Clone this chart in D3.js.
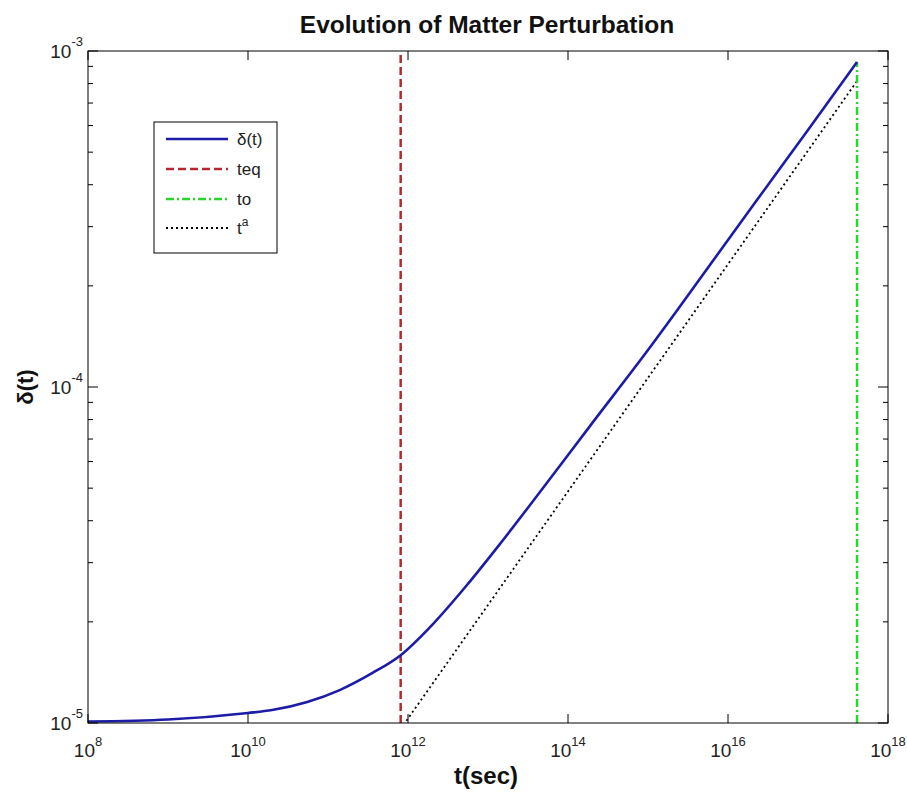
<!DOCTYPE html>
<html>
<head>
<meta charset="utf-8">
<script src="https://cdn.jsdelivr.net/npm/d3@7"></script>
<style>
  html, body { margin: 0; padding: 0; background: #fff; }
  svg { display: block; font-family: "Liberation Sans", Arial, sans-serif; }
</style>
</head>
<body>
<svg id="chart" width="907" height="793"></svg>
<script>
// ---- data ----
const tValues = [1e8, 1e9, 1e10, 2.0e10, 5.5e10, 1.4e11, 3.6e11, 8.1e11, 2.05e12, 5.46e12,
                 1.41e13, 4.87e13, 1.88e14, 1e15, 1e16, 2.3e16, 1e17, 4.1e17];
const deltaValues = [1.01e-5, 1.024e-5, 1.071e-5, 1.093e-5, 1.155e-5, 1.253e-5, 1.409e-5, 1.592e-5, 1.97e-5, 2.574e-5,
                     3.41e-5, 5.006e-5, 7.65e-5, 1.288e-4, 2.739e-4, 3.601e-4, 5.819e-4, 9.27e-4];
const tEq = 8.1e11;
const tO = 4.1e17;
const powerLawT = [8.1e11, 4.1e17];
const powerLawDelta = [9.6e-6, 8.14e-4];
const xTickExps = [8, 10, 12, 14, 16, 18];
const yTickExps = [-5, -4, -3];
const yMinorMultipliers = [2, 3, 4, 5, 6, 7, 8, 9];
const legendLabels = ["δ(t)", "teq", "to", "t"];
const titleText = "Evolution of Matter Perturbation";
const xLabelText = "t(sec)";
const yLabelText = "δ(t)";

// ---- layout ----
const L = 88, R = 888, T = 51, B = 723;
const svg = d3.select("#chart");
const x = d3.scaleLog().domain([1e8, 1e18]).range([L, R]);
const y = d3.scaleLog().domain([1e-5, 1e-3]).range([B, T]);

const colBlue = "#1c1ca6", colRed = "#b52a30", colGreen = "#2ed32e", colBlack = "#000";

svg.append("defs").append("clipPath").attr("id", "plotclip")
  .append("rect").attr("x", L).attr("y", T).attr("width", R - L).attr("height", B - T);

svg.append("rect").attr("x", L).attr("y", T).attr("width", R - L).attr("height", B - T)
  .attr("fill", "#fff");

const plot = svg.append("g").attr("clip-path", "url(#plotclip)");

// t^a dotted line
const powerData = powerLawT.map((t, i) => [t, powerLawDelta[i]]);
plot.append("path")
  .datum(powerData)
  .attr("d", d3.line().x(d => x(d[0])).y(d => y(d[1])))
  .attr("fill", "none").attr("stroke", colBlack).attr("stroke-width", 1.8)
  .attr("stroke-dasharray", "2,3");

// teq dashed line
plot.append("line")
  .attr("x1", x(tEq)).attr("x2", x(tEq))
  .attr("y1", y(1e-5)).attr("y2", y(1e-3))
  .attr("stroke", colRed).attr("stroke-width", 2.5).attr("stroke-dasharray", "8,4");

// to dash-dot line
plot.append("line")
  .attr("x1", x(tO)).attr("x2", x(tO))
  .attr("y1", y(1e-5)).attr("y2", y(deltaValues[deltaValues.length - 1]))
  .attr("stroke", colGreen).attr("stroke-width", 2.5).attr("stroke-dasharray", "8,3,2,3");

// delta(t) curve
const curveData = tValues.map((t, i) => [t, deltaValues[i]]);
plot.append("path")
  .datum(curveData)
  .attr("d", d3.line().x(d => x(d[0])).y(d => y(d[1])).curve(d3.curveMonotoneX))
  .attr("fill", "none").attr("stroke", colBlue).attr("stroke-width", 2.6);

// ---- axes frame & ticks ----
const axes = svg.append("g").attr("stroke", "#000").attr("stroke-width", 1);
axes.append("rect").attr("x", L).attr("y", T).attr("width", R - L).attr("height", B - T)
  .attr("fill", "none");

xTickExps.forEach(e => {
  const xv = x(Math.pow(10, e));
  axes.append("line").attr("x1", xv).attr("x2", xv).attr("y1", B).attr("y2", B - 9);
  axes.append("line").attr("x1", xv).attr("x2", xv).attr("y1", T).attr("y2", T + 9);
});
yTickExps.forEach(e => {
  const yv = y(Math.pow(10, e));
  axes.append("line").attr("x1", L).attr("x2", L + 10).attr("y1", yv).attr("y2", yv);
  axes.append("line").attr("x1", R).attr("x2", R - 10).attr("y1", yv).attr("y2", yv);
});
yTickExps.slice(0, -1).forEach(e => {
  yMinorMultipliers.forEach(m => {
    const yv = y(m * Math.pow(10, e));
    axes.append("line").attr("x1", L).attr("x2", L + 5).attr("y1", yv).attr("y2", yv);
    axes.append("line").attr("x1", R).attr("x2", R - 5).attr("y1", yv).attr("y2", yv);
  });
});

// ---- tick labels ----
xTickExps.forEach(e => {
  const t = svg.append("text").attr("x", x(Math.pow(10, e))).attr("y", 757)
    .attr("text-anchor", "middle").attr("fill", "#222").attr("font-size", 19);
  t.append("tspan").text("10");
  t.append("tspan").attr("dy", -11).attr("font-size", 13).text(String(e));
});
yTickExps.forEach(e => {
  const t = svg.append("text").attr("x", 83).attr("y", y(Math.pow(10, e)) + 7)
    .attr("text-anchor", "end").attr("fill", "#222").attr("font-size", 19);
  t.append("tspan").text("10");
  t.append("tspan").attr("dy", -12).attr("font-size", 13).text(String(e));
});

// ---- titles ----
svg.append("text").attr("x", 487).attr("y", 33).attr("text-anchor", "middle")
  .attr("font-size", 24.5).attr("font-weight", "bold").attr("fill", "#111").text(titleText);
svg.append("text").attr("x", 486).attr("y", 784).attr("text-anchor", "middle")
  .attr("font-size", 24).attr("font-weight", "bold").attr("fill", "#111").text(xLabelText);
svg.append("text").attr("transform", "translate(33," + ((T + B) / 2) + ") rotate(-90)")
  .attr("text-anchor", "middle")
  .attr("font-size", 22).attr("font-weight", "bold").attr("fill", "#111").text(yLabelText);

// ---- legend ----
const lg = svg.append("g");
lg.append("rect").attr("x", 154).attr("y", 122).attr("width", 123).attr("height", 131)
  .attr("fill", "#fff").attr("stroke", "#000").attr("stroke-width", 1);
const legendStyles = [
  { color: colBlue, dash: null, w: 2.6 },
  { color: colRed, dash: "8,4", w: 2.5 },
  { color: colGreen, dash: "8,3,2,3", w: 2.5 },
  { color: colBlack, dash: "2,3", w: 1.8 }
];
const legendY = [139, 169, 199, 228];
legendLabels.forEach((lab, i) => {
  const s = legendStyles[i];
  const ln = lg.append("line").attr("x1", 166).attr("x2", 228)
    .attr("y1", legendY[i]).attr("y2", legendY[i])
    .attr("stroke", s.color).attr("stroke-width", s.w);
  if (s.dash) ln.attr("stroke-dasharray", s.dash);
  const tx = lg.append("text").attr("x", 237).attr("y", legendY[i] + 6)
    .attr("font-size", 17).attr("fill", "#222");
  tx.append("tspan").text(lab);
  if (i === 3) tx.append("tspan").attr("dy", -8).attr("font-size", 12).text("a");
});
</script>
</body>
</html>
